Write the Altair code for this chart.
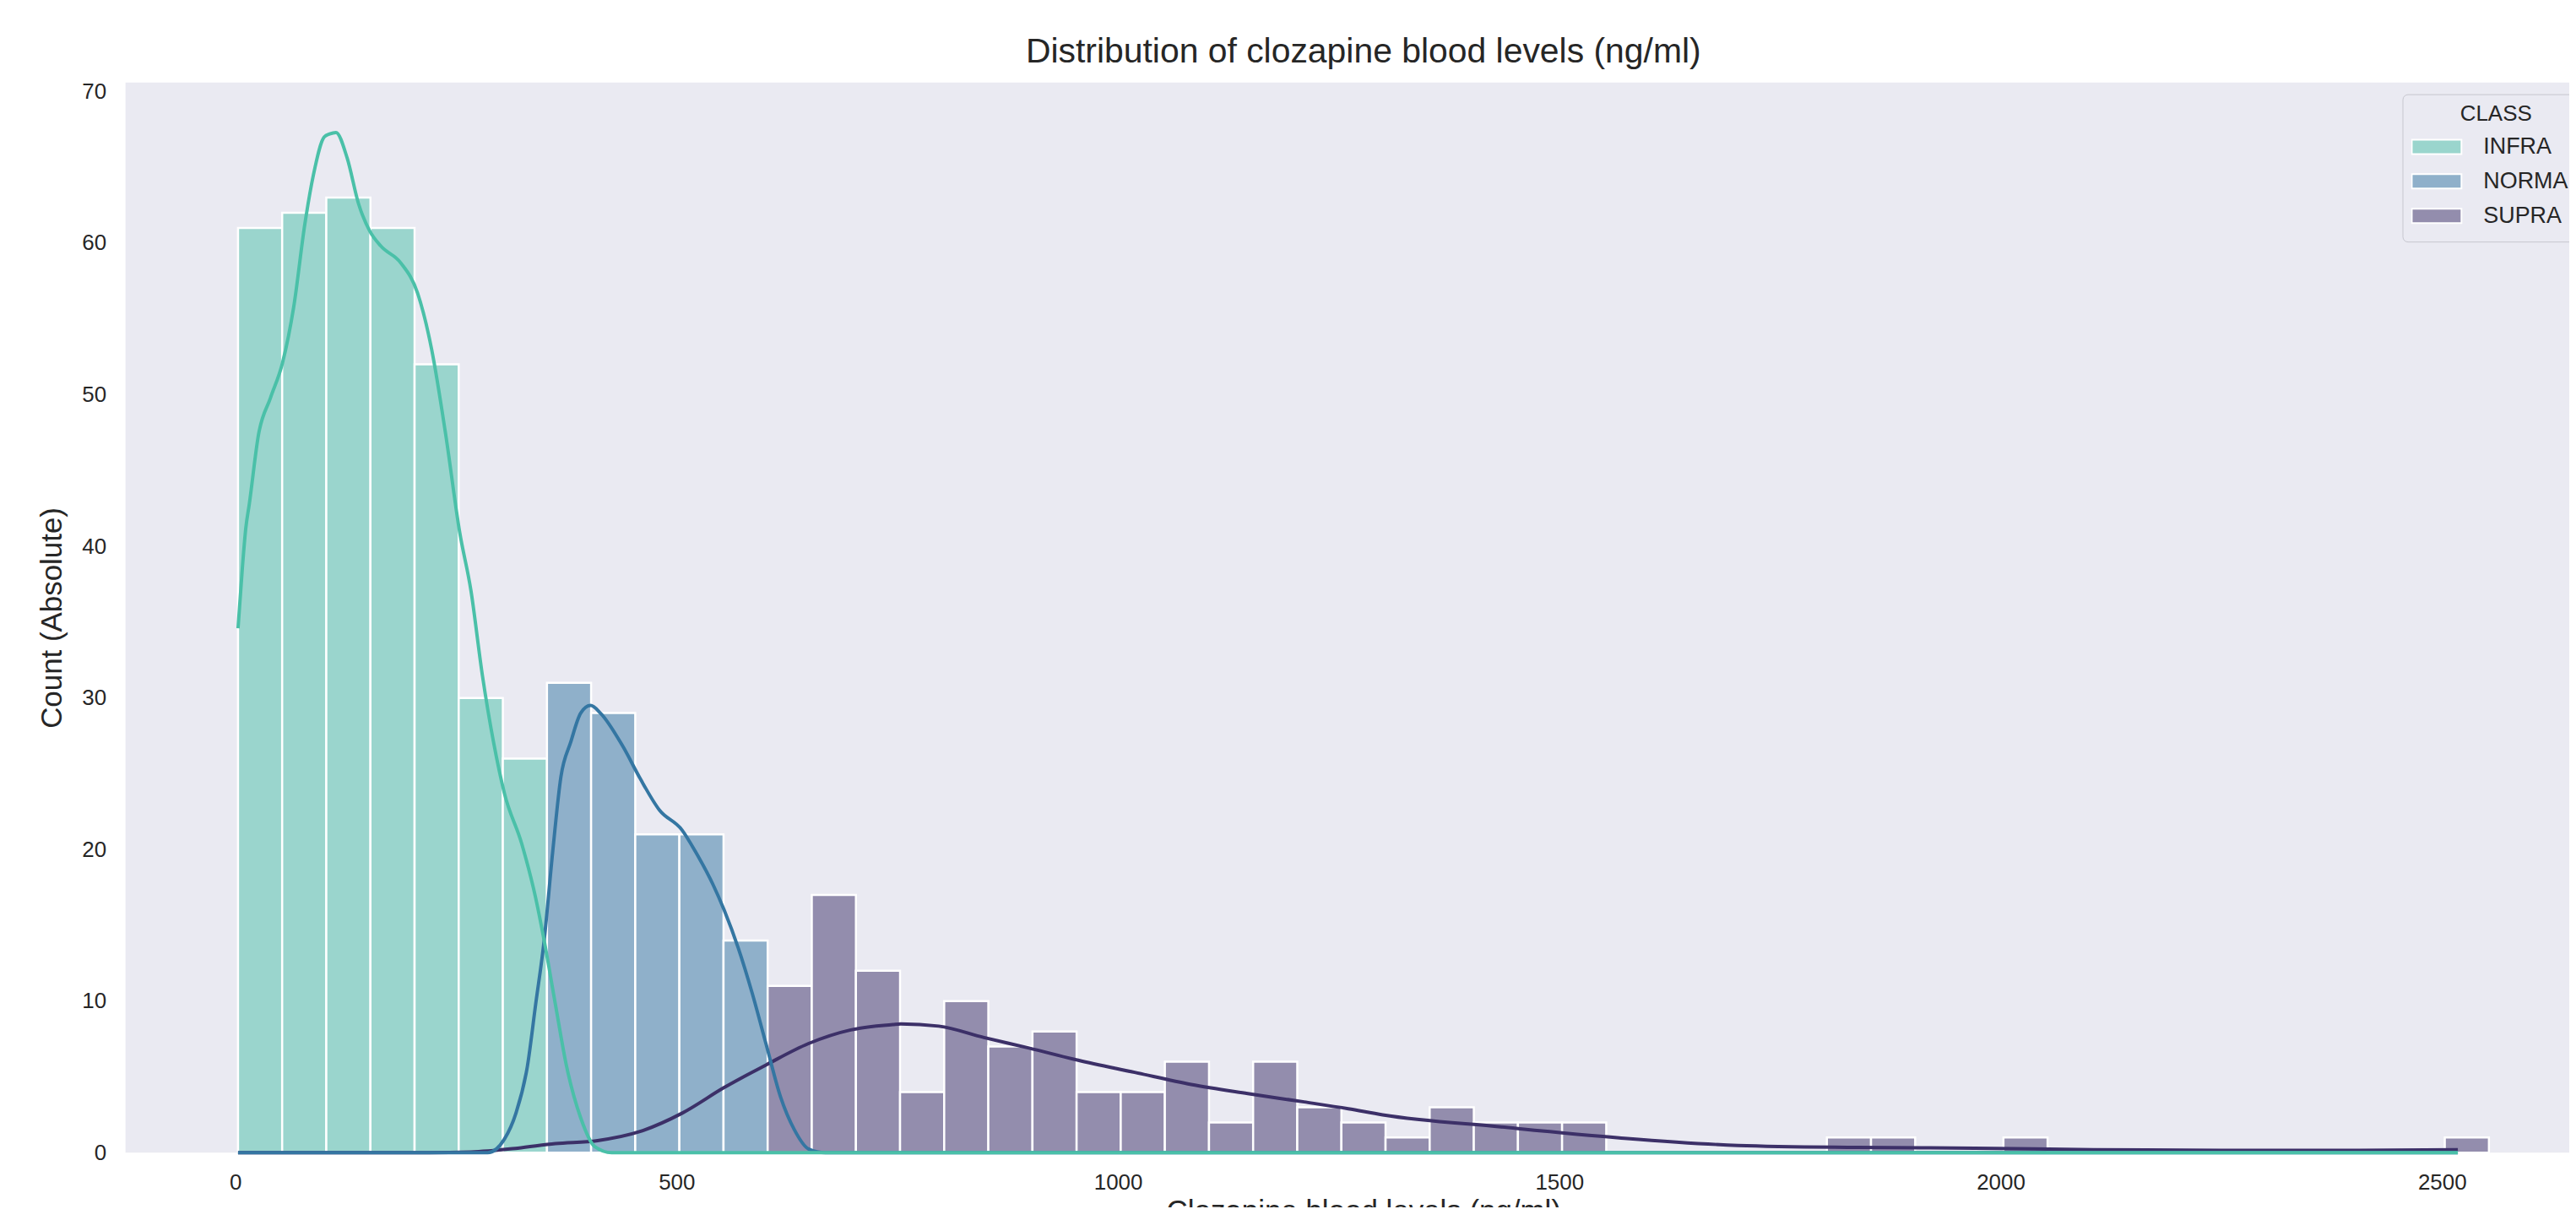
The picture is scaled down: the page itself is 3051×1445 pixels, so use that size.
import altair as alt
import pandas as pd

BG = "#EAEAF2"
TEXT = "#262626"
FONT = "Liberation Sans"

classes = ["INFRA", "NORMAL", "SUPRA"]
bar_colors = ["#9AD5CD", "#8FB0CA", "#938DAD"]
line_colors = ["#4AC0A8", "#3476A2", "#3C3068"]

bin_width = 50
infra_bin_lo = [3.2, 53.2, 103.2, 153.2, 203.2, 253.2, 303.2]
infra_counts = [61, 62, 63, 61, 52, 30, 26]
normal_bin_lo = [353.2, 403.2, 453.2, 503.2, 553.2]
normal_counts = [31, 29, 21, 21, 14]
supra_bin_lo = [603.2, 653.2, 703.2, 753.2, 803.2, 853.2, 903.2, 953.2, 1003.2,
                1053.2, 1103.2, 1153.2, 1203.2, 1253.2, 1303.2, 1353.2, 1403.2,
                1453.2, 1503.2, 1803.2, 1853.2, 2003.2, 2503.2]
supra_counts = [11, 17, 12, 4, 10, 7, 8, 4, 4, 6, 2, 6, 3, 2, 1, 3, 2, 2, 2,
                1, 1, 1, 1]

# KDE curves (scaled to counts)
infra_kde_x = [3.2, 8, 12, 16, 26.5, 40, 53.6, 66.3, 79, 88.6, 100.8, 107, 114.1,
               126.9, 139.7, 152.4, 165.1, 187.5, 206.6, 222.5, 238.4, 254.4, 267,
               280, 292.6, 305, 324.5, 340.4, 350, 362.7, 375.4, 391.4, 407.4,
               426.5, 460, 2518]
infra_kde_y = [34.6, 38.5, 41.2, 42.8, 47.4, 49.8, 52.1, 55.8, 61.3, 64.5, 67.0,
               67.2, 67.3, 65.6, 62.6, 60.8, 59.8, 58.7, 56.7, 53.0, 47.4, 40.9,
               37.1, 31.5, 27.1, 23.7, 20.4, 16.8, 14.0, 9.8, 5.7, 2.3, 0.4,
               0.0, 0.0, 0.0]

normal_kde_x = [3.2, 286, 305, 318, 331, 340.4, 350, 359.6, 369, 380.2, 391.4,
                402.6, 413.7, 439.2, 458.6, 480.6, 506, 522, 541.2, 554, 569.9,
                585.8, 601.7, 617.7, 633.6, 649.5, 668.7, 2518]
normal_kde_y = [0, 0, 0.9, 2.6, 5.7, 9.8, 14, 19.8, 24.8, 27.1, 29, 29.5, 29,
                26.8, 24.7, 22.6, 21.3, 19.8, 17.7, 16, 13.5, 10.5, 7.1, 3.7,
                1.5, 0.25, 0, 0]

supra_kde_x = [3.2, 200, 267, 320, 362.7, 410.5, 458.6, 506, 554, 601.7, 649.5,
               697.3, 745, 754, 797, 848.3, 899.4, 955, 1019, 1083, 1147, 1211,
               1261, 1300, 1434, 1568, 1702.5, 1837, 1971, 2105, 2250, 2400, 2518]
supra_kde_y = [0, 0, 0.05, 0.3, 0.6, 0.8, 1.4, 2.6, 4.3, 5.8, 7.2, 8.1, 8.45,
               8.5, 8.35, 7.6, 6.9, 6.1, 5.3, 4.5, 3.9, 3.35, 2.9, 2.5, 1.7,
               0.98, 0.48, 0.35, 0.3, 0.2, 0.15, 0.15, 0.2]

x_ticks = [0, 500, 1000, 1500, 2000, 2500]
y_ticks = [0, 10, 20, 30, 40, 50, 60, 70]
x_domain = [-124.3, 2644.2]
y_domain = [0, 70.6]

W, H = 2902, 1271

# ---- tables ----
rows = []
for cls, los, cnts in [("INFRA", infra_bin_lo, infra_counts),
                       ("NORMAL", normal_bin_lo, normal_counts),
                       ("SUPRA", supra_bin_lo, supra_counts)]:
    for lo, c in zip(los, cnts):
        rows.append({"CLASS": cls, "x": lo, "x2": lo + bin_width, "y": c})
bars_df = pd.DataFrame(rows)

x_scale = alt.Scale(domain=x_domain, nice=False, zero=False)
y_scale = alt.Scale(domain=y_domain, nice=False)

x_axis = alt.Axis(title="Clozapine blood levels (ng/ml)", values=x_ticks,
                  format="d", labelPadding=22, titleX=1470, titleY=80,
                  titleBaseline="alphabetic", titleAlign="center",
                  labelFlush=False, labelOverlap=False)
y_axis = alt.Axis(title="Count (Absolute)", values=y_ticks, format="d",
                  labelPadding=23, titleX=-69, titleY=H / 2, titleAngle=270,
                  titleBaseline="bottom", titleAlign="center",
                  labelOverlap=False)

legend = alt.Legend(
    title="CLASS", orient="none", legendX=2704, legendY=14,
    symbolType="M-1,-0.29H1V0.29H-1Z", symbolSize=3481,
    symbolStrokeColor="white", symbolStrokeWidth=2, symbolOpacity=1,
    clipHeight=41, rowPadding=0, symbolOffset=0,
    labelFont=FONT, labelFontSize=27, labelColor=TEXT, labelOffset=25,
    titleFont=FONT, titleFontSize=26, titleFontWeight="normal",
    titleColor=TEXT, titleAnchor="middle", titlePadding=6,
    padding=10, fillColor=BG, strokeColor="#C6C6CE", cornerRadius=6,
)

bars = alt.Chart(bars_df).mark_bar(
    stroke="white", strokeWidth=2.5, opacity=1
).encode(
    x=alt.X("x:Q", scale=x_scale, axis=x_axis),
    x2="x2:Q",
    y=alt.Y("y:Q", scale=y_scale, axis=y_axis),
    y2=alt.datum(0),
    color=alt.Color("CLASS:N", scale=alt.Scale(domain=classes, range=bar_colors),
                    legend=legend),
)


def kde_line(xs, ys, color):
    df = pd.DataFrame({"x": xs, "y": ys})
    return alt.Chart(df).mark_line(
        color=color, strokeWidth=4, interpolate="monotone"
    ).encode(
        x=alt.X("x:Q", scale=x_scale, axis=x_axis),
        y=alt.Y("y:Q", scale=y_scale, axis=y_axis),
    )


chart = alt.layer(
    bars,
    kde_line(supra_kde_x, supra_kde_y, line_colors[2]),
    kde_line(normal_kde_x, normal_kde_y, line_colors[1]),
    kde_line(infra_kde_x, infra_kde_y, line_colors[0]),
).properties(
    width=W, height=H,
    title=alt.TitleParams(
        text="Distribution of clozapine blood levels (ng/ml)",
        font=FONT, fontSize=41, fontWeight="normal", color=TEXT,
        anchor="middle", baseline="alphabetic", offset=20, dx=19, dy=39,
    ),
    padding={"left": 141, "top": 88, "right": 0, "bottom": 63},
    autosize=alt.AutoSizeParams(type="none"),
).configure(
    font=FONT, background="white"
).configure_view(
    fill=BG, strokeWidth=0
).configure_axis(
    grid=False, domain=False, ticks=False, tickSize=0,
    labelFont=FONT, labelFontSize=26, labelColor=TEXT,
    titleFont=FONT, titleFontSize=35, titleFontWeight="normal", titleColor=TEXT,
)

chart.save("out.html", embed_options={"renderer": "svg", "actions": False})
